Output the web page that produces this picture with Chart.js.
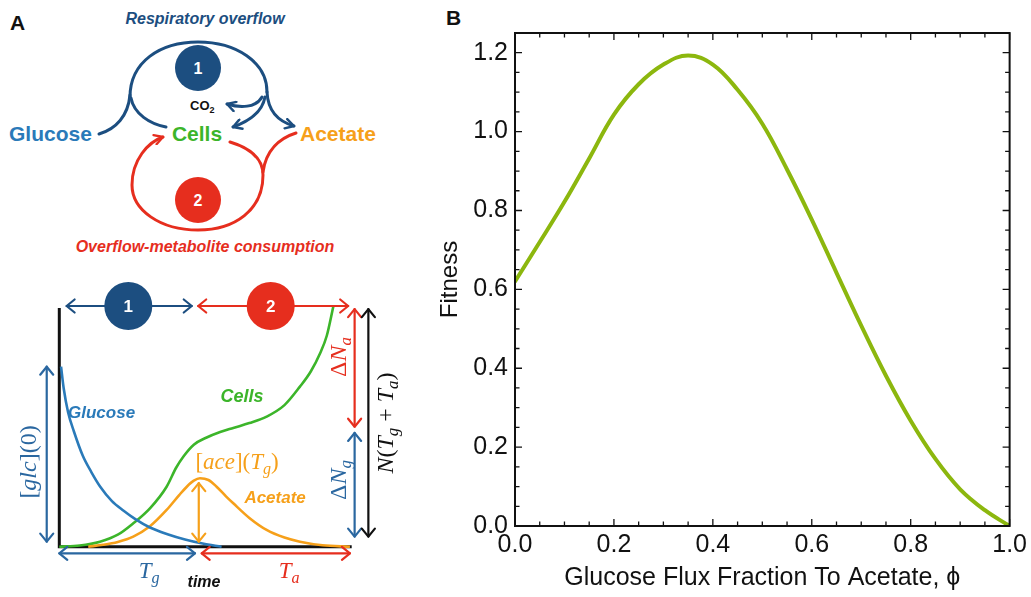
<!DOCTYPE html>
<html><head><meta charset="utf-8">
<script src="https://cdn.jsdelivr.net/npm/chart.js@4/dist/chart.umd.min.js"></script>
<style>
html,body{margin:0;padding:0;background:#fff;}
#wrap{position:relative;width:1031px;height:597px;overflow:hidden;font-family:"Liberation Sans",Arial,sans-serif;}
#cA{position:absolute;left:0;top:270px;width:430px;height:327px;}
#cB{position:absolute;left:430px;top:0;width:601px;height:597px;}
#sch{position:absolute;left:0;top:0;}
#lblB{position:absolute;left:446px;top:6px;font:bold 21px "Liberation Sans",Arial,sans-serif;color:#111;}
</style></head>
<body><div id="wrap">
<svg id="sch" width="430" height="265" viewBox="0 0 430 265" font-family="Liberation Sans, Arial, sans-serif">
<defs>
<marker id="hN" viewBox="0 0 10 10" refX="8.5" refY="5" markerWidth="4" markerHeight="4" orient="auto" markerUnits="strokeWidth">
<path d="M1.5,1 L8.5,5 L1.5,9" fill="none" stroke="#1c4e80" stroke-width="2" stroke-linejoin="round" stroke-linecap="round"/></marker>
<marker id="hR" viewBox="0 0 10 10" refX="8.5" refY="5" markerWidth="4" markerHeight="4" orient="auto" markerUnits="strokeWidth">
<path d="M1.5,1 L8.5,5 L1.5,9" fill="none" stroke="#e62e1e" stroke-width="2" stroke-linejoin="round" stroke-linecap="round"/></marker>
</defs>
<text x="10" y="30" font-size="21" font-weight="bold" fill="#111">A</text>
<text x="205" y="24" text-anchor="middle" font-size="16" font-weight="bold" font-style="italic" fill="#1c4e80">Respiratory overflow</text>
<g fill="none" stroke="#1c4e80" stroke-width="3" stroke-linecap="round">
<path d="M99,134 C116,129 128,116 130,95"/>
<path d="M130,97 C130,62 160,42 198,42 C236,42 267,62 267,92"/>
<path d="M131,98 C134,114 150,124 166,127"/>
<path d="M267,92 C268,112 280,122 294,126" marker-end="url(#hN)"/>
<path d="M265,97 C262,114 247,122 233,127" marker-end="url(#hN)"/>
<path d="M262,97 C256,108 240,108 227,104" marker-end="url(#hN)"/>
</g>
<circle cx="198" cy="68" r="23" fill="#1c4e80"/>
<text x="198" y="74" text-anchor="middle" fill="#fff" font-weight="bold" font-size="16">1</text>
<text x="190" y="110" font-size="13" font-weight="bold" fill="#111">CO<tspan font-size="9" dy="3">2</tspan></text>
<g fill="none" stroke="#e62e1e" stroke-width="3" stroke-linecap="round">
<path d="M230,142 C250,148 263,158 263,175 C263,210 235,230 198,230 C160,230 132,210 132,185 C132,160 148,142 163,137" marker-end="url(#hR)"/>
<path d="M296,133 C280,138 266,150 263,172"/>
</g>
<circle cx="198" cy="200" r="23" fill="#e62e1e"/>
<text x="198" y="206" text-anchor="middle" fill="#fff" font-weight="bold" font-size="16">2</text>
<text x="9" y="141" font-size="21" font-weight="bold" fill="#2a7ab9">Glucose</text>
<text x="197" y="141" text-anchor="middle" font-size="21" font-weight="bold" fill="#3cb52a">Cells</text>
<text x="300" y="141" font-size="21" font-weight="bold" fill="#f6a01a">Acetate</text>
<text x="205" y="252" text-anchor="middle" font-size="16" font-weight="bold" font-style="italic" fill="#e62e1e">Overflow-metabolite consumption</text>
</svg>
<div id="lblB">B</div>
<canvas id="cA" width="430" height="327"></canvas>
<canvas id="cB" width="601" height="597"></canvas>
</div>
<script>
// ---------- Panel B data ----------
const phi = [0,0.05,0.10,0.15,0.20,0.25,0.30,0.35,0.40,0.45,0.50,0.55,0.60,0.65,0.70,0.75,0.80,0.85,0.90,0.95,1.00];
const fitness = [0.62,0.72,0.822,0.932,1.043,1.12,1.17,1.193,1.17,1.106,1.02,0.904,0.777,0.642,0.508,0.381,0.267,0.17,0.093,0.04,0.0];
const yTickStep = 0.2, xTickStep = 0.2, minorStep = 0.05;

// ---------- Panel A data (schematic time courses) ----------
const glucoseT = [0.006,0.015,0.03,0.05,0.08,0.11,0.14,0.18,0.22,0.26,0.31,0.37,0.43,0.49,0.555];
const glucose  = [0.75,0.66,0.56,0.48,0.38,0.31,0.25,0.19,0.15,0.115,0.08,0.052,0.03,0.013,0.0];
const cellsT   = [0,0.07,0.139,0.2,0.253,0.31,0.367,0.40,0.424,0.46,0.504,0.55,0.595,0.65,0.709,0.77,0.823,0.86,0.892,0.915,0.937];
const cells    = [0,0.005,0.021,0.05,0.0975,0.16,0.25,0.33,0.375,0.425,0.455,0.478,0.495,0.515,0.542,0.59,0.667,0.73,0.806,0.88,1.0];
const acetateT = [0.099,0.15,0.2,0.253,0.31,0.367,0.41,0.436,0.46,0.481,0.51,0.538,0.57,0.595,0.65,0.709,0.77,0.823,0.9,0.994];
const acetate  = [0,0.008,0.02,0.042,0.085,0.153,0.215,0.25,0.275,0.285,0.278,0.25,0.21,0.181,0.12,0.07,0.038,0.021,0.006,0];

const NAVY='#1c4e80', RED='#e62e1e', ORANGE='#f6a01a', GREEN='#3cb52a', BLUE='#2a7ab9', STEEL='#2a67a0', BLACK='#111';
const LIME='#8cb70e';

function pts(xs, ys){ return xs.map((x,i)=>({x:x, y:ys[i]})); }

// annotation layout for panel A (in data units of panel A scales)
const annArrows = [
  {a:[0.025,1.003], b:[0.453,1.003], c:NAVY},
  {a:[0.475,1.003], b:[0.988,1.003], c:RED},
  {a:[-0.043,0.75], b:[-0.043,0.021], c:STEEL},
  {a:[0.477,0.265], b:[0.477,0.021], c:ORANGE},
  {a:[0.0,-0.0275], b:[0.464,-0.0275], c:STEEL},
  {a:[0.487,-0.0275], b:[0.994,-0.0275], c:RED},
  {a:[1.01,0.99], b:[1.01,0.5], c:RED},
  {a:[1.01,0.474], b:[1.01,0.042], c:STEEL},
  {a:[1.057,0.99], b:[1.057,0.042], c:BLACK}
];
const annCircles = [
  {p:[0.236,1.003], c:NAVY, t:'1'},
  {p:[0.723,1.003], c:RED, t:'2'}
];
const SANS='"Liberation Sans", Arial, sans-serif', SERIF='"Liberation Serif", "DejaVu Serif", serif';
const annTexts = [
  {p:[0.0298,0.557], c:BLUE, align:'left', parts:[{t:'Glucose',b:1,it:1,fam:SANS}], size:17},
  {p:[0.625,0.624], c:GREEN, parts:[{t:'Cells',b:1,it:1,fam:SANS}], size:18},
  {p:[0.738,0.203], c:ORANGE, parts:[{t:'Acetate',b:1,it:1,fam:SANS}], size:17},
  {p:[0.608,0.349], c:ORANGE, size:23, parts:[{t:'['},{t:'ace',it:1},{t:']('},{t:'T',it:1},{t:'g',it:1,sub:1},{t:')'}]},
  {p:[-0.1,0.353], c:STEEL, size:24, rot:-Math.PI/2, parts:[{t:'['},{t:'glc',it:1},{t:'](0)'}]},
  {p:[0.958,0.79], c:RED, size:24, rot:-Math.PI/2, parts:[{t:'Δ'},{t:'N',it:1},{t:'a',it:1,sub:1}]},
  {p:[0.958,0.278], c:STEEL, size:24, rot:-Math.PI/2, parts:[{t:'Δ'},{t:'N',it:1},{t:'g',it:1,sub:1}]},
  {p:[1.118,0.515], c:BLACK, size:24, rot:-Math.PI/2, parts:[{t:'N',it:1},{t:'('},{t:'T',it:1},{t:'g',it:1,sub:1},{t:' + '},{t:'T',it:1},{t:'a',it:1,sub:1},{t:')'}]},
  {p:[0.307,-0.105], c:STEEL, size:23, parts:[{t:'T',it:1},{t:'g',it:1,sub:1}]},
  {p:[0.495,-0.15], c:BLACK, size:16, parts:[{t:'time',it:1,b:1,fam:SANS}]},
  {p:[0.786,-0.105], c:RED, size:23, parts:[{t:'T',it:1},{t:'a',it:1,sub:1}]}
];

function fontOf(p,size){ const s = p.sub ? size*0.7 : size; return (p.it?'italic ':'')+(p.b?'bold ':'')+s.toFixed(1)+'px '+(p.fam||SERIF); }
function drawRich(ctx, x, y, parts, size, color, rot, align){
  ctx.save(); ctx.translate(x,y); if(rot) ctx.rotate(rot);
  let w=0; parts.forEach(p=>{ctx.font=fontOf(p,size); w+=ctx.measureText(p.t).width;});
  let cx = align==='left' ? 0 : -w/2;
  ctx.textBaseline='middle'; ctx.textAlign='left'; ctx.fillStyle=color;
  parts.forEach(p=>{ctx.font=fontOf(p,size); ctx.fillText(p.t, cx, p.sub? size*0.3 : 0); cx+=ctx.measureText(p.t).width;});
  ctx.restore();
}
function head(ctx, tx, ty, ux, uy, len, wid){
  const px=-uy, py=ux;
  ctx.beginPath();
  ctx.moveTo(tx-len*ux+wid*px, ty-len*uy+wid*py);
  ctx.lineTo(tx,ty);
  ctx.lineTo(tx-len*ux-wid*px, ty-len*uy-wid*py);
  ctx.stroke();
}
function dblArrow(ctx, x1,y1,x2,y2,color){
  const d=Math.hypot(x2-x1,y2-y1), ux=(x2-x1)/d, uy=(y2-y1)/d;
  ctx.save(); ctx.strokeStyle=color; ctx.lineWidth=2.2; ctx.lineCap='round'; ctx.lineJoin='round';
  ctx.beginPath(); ctx.moveTo(x1,y1); ctx.lineTo(x2,y2); ctx.stroke();
  head(ctx,x2,y2,ux,uy,8,6.5); head(ctx,x1,y1,-ux,-uy,8,6.5);
  ctx.restore();
}

const panelAPlugin = {
  id:'panelA',
  beforeDatasetsDraw(chart){
    const {ctx, scales:{x,y}} = chart;
    ctx.save(); ctx.strokeStyle=BLACK; ctx.lineWidth=3; ctx.lineCap='butt';
    ctx.beginPath();
    ctx.moveTo(x.getPixelForValue(0), y.getPixelForValue(0.995));
    ctx.lineTo(x.getPixelForValue(0), y.getPixelForValue(0));
    ctx.lineTo(x.getPixelForValue(1.0), y.getPixelForValue(0));
    ctx.stroke(); ctx.restore();
  },
  afterDatasetsDraw(chart){
    const {ctx, scales:{x,y}} = chart;
    annArrows.forEach(a=>dblArrow(ctx, x.getPixelForValue(a.a[0]), y.getPixelForValue(a.a[1]), x.getPixelForValue(a.b[0]), y.getPixelForValue(a.b[1]), a.c));
    annCircles.forEach(c=>{
      const cx=x.getPixelForValue(c.p[0]), cy=y.getPixelForValue(c.p[1]);
      ctx.save(); ctx.fillStyle=c.c; ctx.beginPath(); ctx.arc(cx,cy,24,0,Math.PI*2); ctx.fill();
      ctx.fillStyle='#fff'; ctx.font='bold 17px '+SANS; ctx.textAlign='center'; ctx.textBaseline='middle';
      ctx.fillText(c.t,cx,cy+1); ctx.restore();
    });
    annTexts.forEach(t=>drawRich(ctx, x.getPixelForValue(t.p[0]), y.getPixelForValue(t.p[1]), t.parts, t.size, t.c, t.rot, t.align));
  }
};

new Chart(document.getElementById('cA'), {
  type:'scatter',
  data:{datasets:[
    {label:'Glucose', data:pts(glucoseT,glucose), borderColor:BLUE},
    {label:'Acetate', data:pts(acetateT,acetate), borderColor:ORANGE},
    {label:'Cells', data:pts(cellsT,cells), borderColor:GREEN}
  ].map(d=>Object.assign(d,{showLine:true, pointRadius:0, borderWidth:2.6, cubicInterpolationMode:'monotone', clip:false}))},
  options:{
    responsive:false, animation:false, devicePixelRatio:1,
    layout:{padding:{left:59.3, top:36.7, right:78.3, bottom:50.3}},
    plugins:{legend:{display:false}, tooltip:{enabled:false}},
    scales:{ x:{type:'linear', min:0, max:1, display:false}, y:{type:'linear', min:0, max:1, display:false} }
  },
  plugins:[panelAPlugin]
});

const frameTicksPlugin = {
  id:'frameTicks',
  afterDatasetsDraw(chart){
    const {ctx, chartArea:a, scales:{x,y}} = chart;
    ctx.save(); ctx.strokeStyle=BLACK; ctx.lineWidth=1.3;
    for(let k=0; k*minorStep<=1.25+1e-9; k++){
      const v=k*minorStep, py=y.getPixelForValue(v), L = (k%4===0)?7:4.5;
      ctx.beginPath(); ctx.moveTo(a.left,py); ctx.lineTo(a.left+L,py); ctx.moveTo(a.right,py); ctx.lineTo(a.right-L,py); ctx.stroke();
    }
    for(let k=0; k*minorStep<=1+1e-9; k++){
      const v=k*minorStep, px=x.getPixelForValue(v), L=(k%4===0)?7:4.5;
      ctx.beginPath(); ctx.moveTo(px,a.bottom); ctx.lineTo(px,a.bottom-L); ctx.moveTo(px,a.top); ctx.lineTo(px,a.top+L); ctx.stroke();
    }
    ctx.lineWidth=2; ctx.strokeRect(a.left, a.top, a.right-a.left, a.bottom-a.top);
    ctx.restore();
  }
};

new Chart(document.getElementById('cB'), {
  type:'scatter',
  data:{datasets:[{label:'Fitness', data:pts(phi,fitness), showLine:true, pointRadius:0, borderColor:LIME, borderWidth:4, tension:0.4, borderCapStyle:'round'}]},
  options:{
    responsive:false, animation:false, devicePixelRatio:1,
    layout:{padding:{left:0, top:33, right:21, bottom:0}},
    plugins:{legend:{display:false}, tooltip:{enabled:false}},
    scales:{
      x:{type:'linear', min:0, max:1, grid:{display:false, drawTicks:false}, border:{display:false},
         ticks:{stepSize:xTickStep, includeBounds:false, autoSkip:false, maxRotation:0, padding:4, color:BLACK, font:{family:SANS, size:25}, callback:v=>v.toFixed(1)},
         title:{display:true, text:'Glucose Flux Fraction To Acetate, ϕ', color:BLACK, font:{family:SANS, size:25}, padding:{top:0,bottom:4}},
         afterFit(s){ s.height=71; }},
      y:{type:'linear', min:0, max:1.25, grid:{display:false, drawTicks:false}, border:{display:false},
         ticks:{stepSize:yTickStep, includeBounds:false, autoSkip:false, padding:7, color:BLACK, font:{family:SANS, size:25}, callback:v=>v.toFixed(1)},
         title:{display:true, text:'Fitness', color:BLACK, font:{family:SANS, size:24}, padding:{top:6,bottom:0}},
         afterFit(s){ s.width=85; }}
    }
  },
  plugins:[frameTicksPlugin]
});
</script>
</body></html>
